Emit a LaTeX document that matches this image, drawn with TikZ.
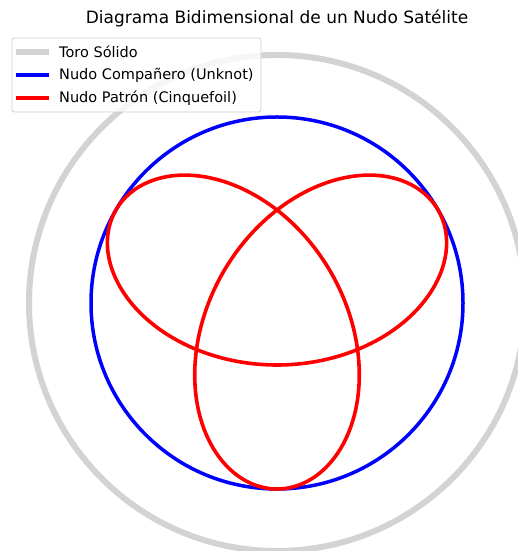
\documentclass[tikz,border=0pt]{standalone}
\usepackage{fontspec}
\setmainfont{DejaVu Sans}
\definecolor{toro}{HTML}{D3D3D3}
\definecolor{mblue}{HTML}{0000FF}
\definecolor{mred}{HTML}{FF0000}
\definecolor{legframe}{HTML}{D0D0D0}
\begin{document}
\begin{tikzpicture}[x=1pt,y=1pt,
  torostyle/.style={draw=toro,line width=6pt},
  unknotstyle/.style={draw=mblue,line width=3.5pt},
  patronstyle/.style={draw=mred,line width=3.6pt},
  legtext/.style={anchor=west,inner sep=0pt,font=\fontsize{14.5}{17}\selectfont},
  titletext/.style={inner sep=0pt,font=\fontsize{17}{20}\selectfont}]
\useasboundingbox (0,0) rectangle (518,551);
\coordinate (C) at (277,248);
\begin{scope}
\clip (0,0) rectangle (518,551);
\draw[torostyle] (C) circle[radius=248];
\draw[unknotstyle] (C) circle[radius=186];
\draw[patronstyle] plot[domain=0:360,samples=361,smooth]
  ({277+62*(sin(\x)+2*sin(2*\x))},{248+62*(cos(\x)-2*cos(2*\x))}) -- cycle;
\end{scope}
\node[titletext] (title) at (277,533) {Diagrama Bidimensional de un Nudo Satélite};
% legend
\draw[draw=legframe,fill=white,fill opacity=0.8,rounded corners=2.5pt,line width=0.8pt] (12,513) rectangle (261,439);
\coordinate (l1a) at (16,499); \coordinate (l1b) at (49,499);
\coordinate (l2a) at (16,476); \coordinate (l2b) at (49,476);
\coordinate (l3a) at (16,453); \coordinate (l3b) at (49,453);
\draw[torostyle] (l1a) -- (l1b);
\draw[unknotstyle] (l2a) -- (l2b);
\draw[patronstyle] (l3a) -- (l3b);
\node[legtext] (t1) at (59,499) {Toro Sólido};
\node[legtext] (t2) at (59,476) {Nudo Compañero (Unknot)};
\node[legtext] (t3) at (59,453) {Nudo Patrón (Cinquefoil)};
\end{tikzpicture}
\end{document}
